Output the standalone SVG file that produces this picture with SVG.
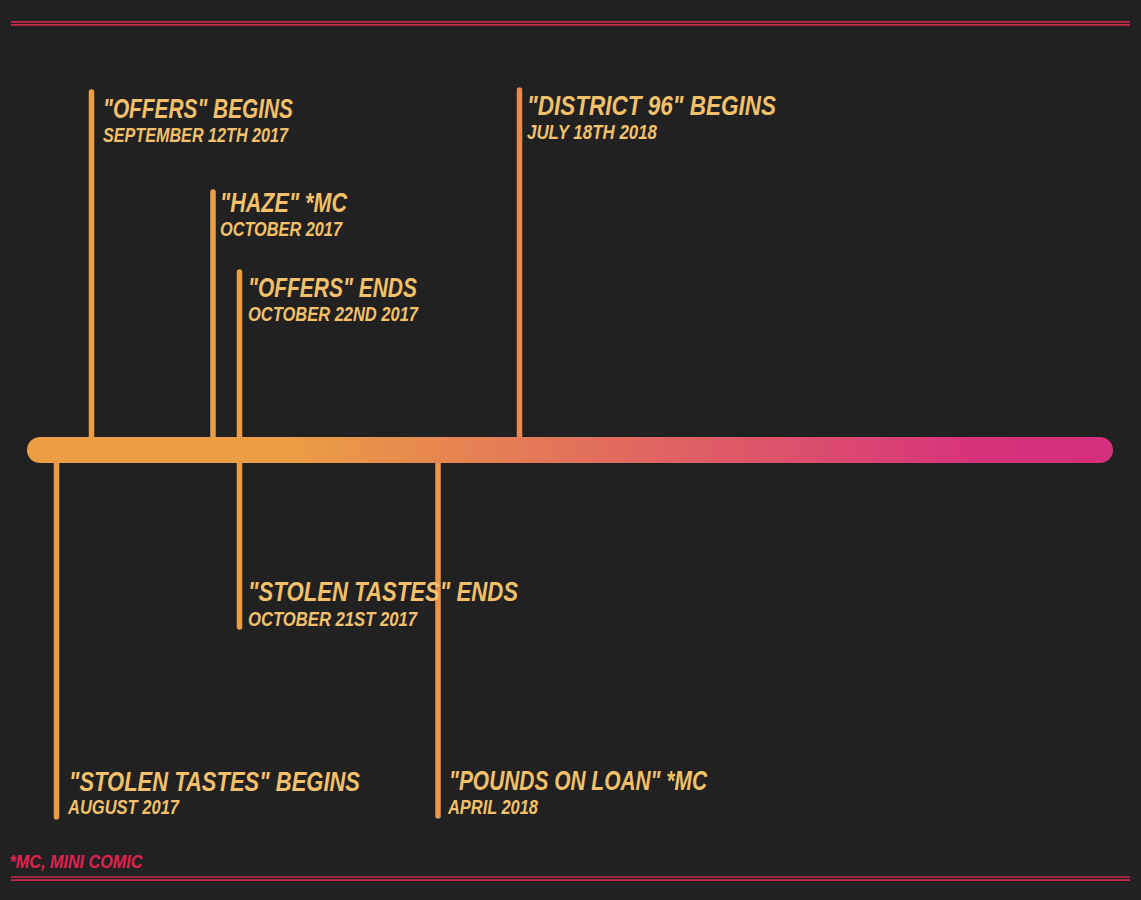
<svg xmlns="http://www.w3.org/2000/svg" width="1141" height="900" viewBox="0 0 1141 900">
<defs>
<linearGradient id="grad" gradientUnits="userSpaceOnUse" x1="27" y1="0" x2="1113" y2="0">
<stop offset="0.24" stop-color="#eb9e44"/>
<stop offset="0.88" stop-color="#d6327b"/>
<stop offset="1" stop-color="#d52f7d"/>
</linearGradient>
<style>
.rule{stroke:#c8284c;stroke-width:1.7;fill:none}
.stem{stroke:#eb9e44;stroke-width:5.5;stroke-linecap:round;fill:none}
.t{font-family:"Liberation Sans",Arial,sans-serif;font-weight:bold;font-style:italic;fill:#f4c06a;font-size:28px}
.s{font-family:"Liberation Sans",Arial,sans-serif;font-weight:bold;font-style:italic;fill:#f4c06a;font-size:21px}
.note{font-family:"Liberation Sans",Arial,sans-serif;font-weight:bold;font-style:italic;fill:#e3214f;font-size:18px}
</style>
</defs>
<rect width="1141" height="900" fill="#212121"/>
<g id="rules">
<line class="rule" x1="11" y1="21.8" x2="1130" y2="21.8"/>
<line class="rule" x1="11" y1="24.8" x2="1130" y2="24.8"/>
<line class="rule" x1="11" y1="877" x2="1130" y2="877"/>
<line class="rule" x1="11" y1="880.2" x2="1130" y2="880.2"/>
</g>
<g id="connectors">
<line class="stem" x1="91.5" y1="92" x2="91.5" y2="440"/>
<line class="stem" x1="213" y1="192" x2="213" y2="440"/>
<line class="stem" x1="239.5" y1="272" x2="239.5" y2="440"/>
<line class="stem" x1="519.5" y1="90" x2="519.5" y2="440" style="stroke:#e8894f"/>
<line class="stem" x1="56.5" y1="460" x2="56.5" y2="817"/>
<line class="stem" x1="239.5" y1="460" x2="239.5" y2="627"/>
<line class="stem" x1="438" y1="460" x2="438" y2="816" style="stroke:#ea9549"/>
</g>
<g id="timeline">
<rect x="27" y="437" width="1086" height="26" rx="13" fill="url(#grad)"/>
</g>
<g id="offers-begins">
<text class="t" x="103" y="117.5" textLength="190" lengthAdjust="spacingAndGlyphs">"OFFERS" BEGINS</text>
<text class="s" x="103" y="141.7" textLength="185" lengthAdjust="spacingAndGlyphs">SEPTEMBER 12TH 2017</text>
</g>
<g id="haze">
<text class="t" x="220" y="211.7" textLength="127" lengthAdjust="spacingAndGlyphs">"HAZE" *MC</text>
<text class="s" x="220" y="235.7" textLength="122" lengthAdjust="spacingAndGlyphs">OCTOBER 2017</text>
</g>
<g id="offers-ends">
<text class="t" x="248" y="296.7" textLength="169" lengthAdjust="spacingAndGlyphs">"OFFERS" ENDS</text>
<text class="s" x="248" y="320.7" textLength="170" lengthAdjust="spacingAndGlyphs">OCTOBER 22ND 2017</text>
</g>
<g id="district-96">
<text class="t" x="527" y="115" textLength="249" lengthAdjust="spacingAndGlyphs">"DISTRICT 96" BEGINS</text>
<text class="s" x="527" y="139" textLength="130" lengthAdjust="spacingAndGlyphs">JULY 18TH 2018</text>
</g>
<g id="stolen-tastes-ends">
<text class="t" x="248" y="601" textLength="270" lengthAdjust="spacingAndGlyphs">"STOLEN TASTES" ENDS</text>
<text class="s" x="248" y="625.5" textLength="169" lengthAdjust="spacingAndGlyphs">OCTOBER 21ST 2017</text>
</g>
<g id="stolen-tastes-begins">
<text class="t" x="69" y="790.7" textLength="291" lengthAdjust="spacingAndGlyphs">"STOLEN TASTES" BEGINS</text>
<text class="s" x="68" y="814" textLength="111" lengthAdjust="spacingAndGlyphs">AUGUST 2017</text>
</g>
<g id="pounds-on-loan">
<text class="t" x="449" y="790" textLength="258" lengthAdjust="spacingAndGlyphs">"POUNDS ON LOAN" *MC</text>
<text class="s" x="448" y="814" textLength="90" lengthAdjust="spacingAndGlyphs">APRIL 2018</text>
</g>
<g id="footnote">
<text class="note" x="9.5" y="868" textLength="133" lengthAdjust="spacingAndGlyphs">*MC, MINI COMIC</text>
</g>
</svg>
